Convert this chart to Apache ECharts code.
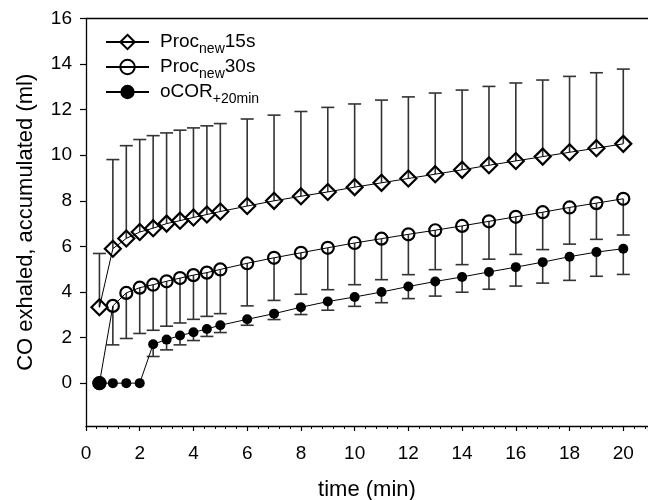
<!DOCTYPE html>
<html>
<head>
<meta charset="utf-8">
<script src="https://cdn.jsdelivr.net/npm/echarts@6/dist/echarts.min.js"></script>
<style>html,body{margin:0;padding:0;background:#fff;}#c{width:648px;height:500px;}</style>
</head>
<body>
<div id="c"></div>
<script>
const times = [0.5,1,1.5,2,2.5,3,3.5,4,4.5,5,6,7,8,9,10,11,12,13,14,15,16,17,18,19,20];
const proc15Mean = [3.33,5.9,6.35,6.63,6.8,7.0,7.13,7.27,7.4,7.53,7.77,8.0,8.2,8.39,8.6,8.79,8.98,9.17,9.36,9.56,9.75,9.94,10.13,10.31,10.5];
const proc15Upper = [5.69,9.81,10.42,10.69,10.86,10.98,11.1,11.2,11.29,11.39,11.59,11.76,11.92,12.1,12.25,12.42,12.56,12.73,12.86,13.02,13.17,13.3,13.46,13.62,13.78];
const proc30Mean = [0,3.39,3.96,4.19,4.32,4.47,4.61,4.74,4.85,4.99,5.26,5.5,5.72,5.94,6.15,6.34,6.53,6.71,6.9,7.1,7.3,7.5,7.71,7.9,8.09];
const proc30Lower = [null,1.68,1.96,2.18,2.32,2.5,2.64,2.8,2.93,3.05,3.39,3.63,3.9,4.1,4.32,4.54,4.76,4.98,5.2,5.44,5.65,5.86,6.1,6.31,6.5];
const ocorMean = [0,0,0,0,1.71,1.91,2.09,2.23,2.38,2.54,2.8,3.05,3.33,3.58,3.78,4.0,4.24,4.46,4.66,4.88,5.09,5.31,5.55,5.75,5.9];
const ocorLower = [null,null,null,null,1.17,1.46,1.68,1.87,2.05,2.22,2.54,2.79,3.01,3.2,3.37,3.53,3.71,3.82,3.99,4.12,4.26,4.39,4.51,4.69,4.77];
const xTickValues = [0,2,4,6,8,10,12,14,16,18,20];
const yTickValues = [0,2,4,6,8,10,12,14,16];
const seriesNames = ['Proc15','Proc30','oCOR'];

const FONT = 'Liberation Sans, Arial, sans-serif';
const chart = echarts.init(document.getElementById('c'));

function pairs(ys){ return times.map((t,i)=>[t, ys[i]]); }
function errData(means, ends){
  const out = [];
  times.forEach((t,i)=>{ if(ends[i]!==null && ends[i]!==undefined) out.push([t, means[i], ends[i]]); });
  return out;
}
function errSeries(data){
  return {
    type:'custom', silent:true, z:1, xAxisIndex:0, yAxisIndex:0,
    data:data,
    renderItem:function(params, api){
      const p0 = api.coord([api.value(0), api.value(1)]);
      const p1 = api.coord([api.value(0), api.value(2)]);
      const hw = 6.5;
      const st = {stroke:'#333', lineWidth:1.6};
      return {type:'group', children:[
        {type:'line', shape:{x1:p0[0],y1:p0[1],x2:p1[0],y2:p1[1]}, style:st},
        {type:'line', shape:{x1:p1[0]-hw,y1:p1[1],x2:p1[0]+hw,y2:p1[1]}, style:st}
      ]};
    }
  };
}

const hollow = {color:'rgba(255,255,255,0)', borderColor:'#000', borderWidth:2.2};

const ocorData = pairs(ocorMean).map((d,i)=> i===0 ? {value:d, symbolSize:14} : d);
const proc30Data = pairs(proc30Mean).map((d,i)=> i===0 ? {value:d, itemStyle:{color:'#000'}} : d);

const option = {
  animation:false,
  backgroundColor:'#fff',
  textStyle:{fontFamily:FONT},
  grid:{left:86, right:0, top:18.5, bottom:74, containLabel:false, outerBoundsMode:'none'},
  legend:{
    orient:'vertical', left:105, top:32, padding:0,
    itemWidth:43, itemHeight:18, itemGap:1,
    data:seriesNames,
    formatter:function(name){
      if(name==='Proc15') return '{n|Proc}{s|new}{n|15s}';
      if(name==='Proc30') return '{n|Proc}{s|new}{n|30s}';
      return '{n|oCOR}{s|+20min}';
    },
    textStyle:{
      color:'#000', fontFamily:FONT, padding:[0,0,0,6],
      rich:{
        n:{fontSize:19, fontFamily:FONT, color:'#000', lineHeight:20, verticalAlign:'top'},
        s:{fontSize:14, fontFamily:FONT, color:'#000', lineHeight:14, padding:[10,0,0,0], verticalAlign:'top'}
      }
    }
  },
  xAxis:[{
    type:'value', min:0, max:20.92, interval:2,
    name:'time (min)', nameLocation:'middle', nameGap:53,
    nameTextStyle:{fontSize:22, color:'#000', fontFamily:FONT},
    axisLine:{show:true, onZero:false, lineStyle:{color:'#000', width:1.3}},
    axisTick:{show:true, length:5, lineStyle:{color:'#000', width:1.2}},
    minorTick:{show:true, splitNumber:5, length:3, lineStyle:{color:'#000', width:1}},
    axisLabel:{fontSize:19, color:'#000', margin:18, fontFamily:FONT, customValues:xTickValues},
    splitLine:{show:false}
  },{
    type:'value', min:0, max:20.92, position:'top',
    axisLine:{show:true, onZero:false, lineStyle:{color:'#000', width:1.3}},
    axisTick:{show:false}, axisLabel:{show:false}, splitLine:{show:false}
  }],
  yAxis:{
    type:'value', min:-1.88, max:16,
    name:'CO exhaled, accumulated (ml)', nameLocation:'middle', nameGap:49,
    nameTextStyle:{fontSize:22, color:'#000', fontFamily:FONT},
    axisLine:{show:true, onZero:false, lineStyle:{color:'#000', width:1.3}},
    axisTick:{show:true, length:6, customValues:yTickValues, lineStyle:{color:'#000', width:1.2}},
    axisLabel:{fontSize:19, color:'#000', margin:14, fontFamily:FONT, customValues:yTickValues},
    splitLine:{show:false}
  },
  series:[
    errSeries(errData(proc15Mean, proc15Upper)),
    errSeries(errData(proc30Mean, proc30Lower)),
    errSeries(errData(ocorMean, ocorLower)),
    {name:'Proc15', type:'line', z:3, data:pairs(proc15Mean), symbol:'diamond', symbolSize:16,
      showAllSymbol:true, lineStyle:{color:'#000', width:1}, itemStyle:hollow},
    {name:'Proc30', type:'line', z:3, data:proc30Data, symbol:'circle', symbolSize:12,
      showAllSymbol:true, lineStyle:{color:'#000', width:1}, itemStyle:hollow},
    {name:'oCOR', type:'line', z:4, data:ocorData, symbol:'circle', symbolSize:10,
      showAllSymbol:true, lineStyle:{color:'#000', width:1}, itemStyle:{color:'#000', borderWidth:0}}
  ]
};
chart.setOption(option);
</script>
</body>
</html>
